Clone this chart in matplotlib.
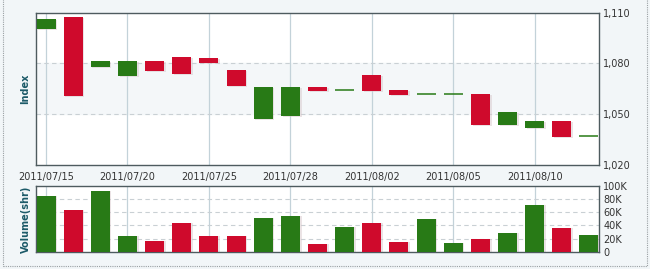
import matplotlib
matplotlib.use("Agg")
import matplotlib.pyplot as plt
from matplotlib.patches import Rectangle
from matplotlib.ticker import FuncFormatter
import numpy as np

# ---- data ----
dates = ["2011/07/15", "2011/07/18", "2011/07/19", "2011/07/20", "2011/07/21",
         "2011/07/22", "2011/07/25", "2011/07/26", "2011/07/27", "2011/07/28",
         "2011/07/29", "2011/08/01", "2011/08/02", "2011/08/03", "2011/08/04",
         "2011/08/05", "2011/08/08", "2011/08/09", "2011/08/10", "2011/08/11",
         "2011/08/12"]
opens = [1100.4, 1107.5, 1077.8, 1072.5, 1081.4, 1083.7, 1083.1, 1076.1, 1047.1,
         1048.9, 1065.8, 1064.3, 1072.9, 1064.3, 1061.7, 1061.7, 1061.7, 1043.8,
         1042.0, 1046.0, 1037.1]
closes = [1106.2, 1060.7, 1081.4, 1081.4, 1075.5, 1073.7, 1080.2, 1066.8, 1066.0,
          1066.0, 1063.7, 1064.3, 1063.8, 1061.5, 1061.7, 1061.7, 1043.8, 1051.1,
          1046.0, 1036.7, 1037.1]
volumes_k = [84.5, 63.3, 92.0, 24.0, 16.6, 44.2, 24.0, 24.0, 51.3, 54.3, 12.0,
             37.7, 44.2, 15.6, 49.8, 13.6, 19.6, 28.7, 71.3, 36.2, 25.6]
tick_dates = ["2011/07/15", "2011/07/20", "2011/07/25", "2011/07/28",
              "2011/08/02", "2011/08/05", "2011/08/10"]
index_ticks = [1020, 1050, 1080, 1110]
volume_ticks = [0, 20, 40, 60, 80, 100]

GREEN = "#287a16"
RED = "#cf0a2c"
GRIDV = "#c3d2d9"
GRIDH = "#c9d0d4"
SPINE = "#4e5b5f"
LABEL = "#1c5a68"
TXT = "#333333"

plt.rcParams['font.family'] = ['DejaVu Sans']

fig = plt.figure(figsize=(6.5, 2.69), dpi=100, facecolor="#f2f6f8")

x = np.arange(len(dates))
w = 0.70
tick_pos = [dates.index(d) for d in tick_dates]
xlim = (-0.37, len(dates) - 1 + 0.37)

# ---- main (index) axes ----
ax = fig.add_axes([0.0554, 0.3866, 0.8662, 0.5669])
ax.set_facecolor("white")
ax.axhspan(1050, 1080, color="#f4f7f9", zorder=0)
for tp in tick_pos:
    ax.axvline(tp, color=GRIDV, lw=0.9, zorder=1)
for yv in [1050, 1080]:
    ax.axhline(yv, color=GRIDH, lw=0.8, ls=(0, (4, 3)), zorder=1)

for i, (o, c) in enumerate(zip(opens, closes)):
    col = GREEN if c >= o else RED
    if abs(c - o) < 0.05:
        ax.hlines(c, i - w / 2, i + w / 2, color=GREEN, lw=1.1, zorder=3)
    else:
        lo, hi = min(o, c), max(o, c)
        ax.bar(i + 0.06, hi - lo, bottom=lo - 0.6, width=w, color="#d8c8cc",
               alpha=0.5, zorder=2, linewidth=0)
        ax.bar(i, hi - lo, bottom=lo, width=w, color=col, zorder=3, linewidth=0)

ax.set_xlim(*xlim)
ax.set_ylim(1020, 1110)
ax.yaxis.tick_right()
ax.set_yticks(index_ticks)
ax.yaxis.set_major_formatter(FuncFormatter(lambda v, p: f"{int(v):,}"))
ax.set_xticks(tick_pos)
ax.set_xticklabels(tick_dates)
ax.tick_params(axis="both", length=0, labelsize=7, colors=TXT, pad=3)
ax.tick_params(axis="x", pad=5)
for s in ax.spines.values():
    s.set_color(SPINE)
    s.set_linewidth(1.0)
ax.set_ylabel("Index", fontsize=7, fontweight="bold", color=LABEL, labelpad=4)

# ---- volume axes ----
av = fig.add_axes([0.0554, 0.0632, 0.8662, 0.2465])
av.set_facecolor("white")
for tp in tick_pos:
    av.axvline(tp, color=GRIDV, lw=0.9, zorder=1)
for yv in volume_ticks[1:-1]:
    av.axhline(yv, color=GRIDH, lw=0.8, ls=(0, (4, 3)), zorder=1)
for i, v in enumerate(volumes_k):
    col = GREEN if closes[i] >= opens[i] else RED
    av.bar(i + 0.06, v, width=w, color="#d8c8cc", alpha=0.5, zorder=2, linewidth=0)
    av.bar(i, v, width=w, color=col, zorder=3, linewidth=0)
av.set_xlim(*xlim)
av.set_ylim(0, 100)
av.yaxis.tick_right()
av.set_yticks(volume_ticks)
av.yaxis.set_major_formatter(FuncFormatter(lambda v, p: "0" if v == 0 else f"{int(v)}K"))
av.set_xticks(tick_pos)
av.set_xticklabels([])
av.tick_params(axis="both", length=0, labelsize=7, colors=TXT, pad=3)
for s in av.spines.values():
    s.set_color(SPINE)
    s.set_linewidth(1.0)
av.set_ylabel("Volume(shr)", fontsize=7, fontweight="bold", color=LABEL, labelpad=4)

# outer dotted frame
fig.patches.append(Rectangle((2.5 / 650, 3 / 269), 644 / 650, 300 / 269,
                             transform=fig.transFigure, fill=False,
                             edgecolor="#9aa0a3", lw=0.8, ls=(0, (1, 1))))

fig.savefig("out.png", dpi=100, facecolor=fig.get_facecolor())
